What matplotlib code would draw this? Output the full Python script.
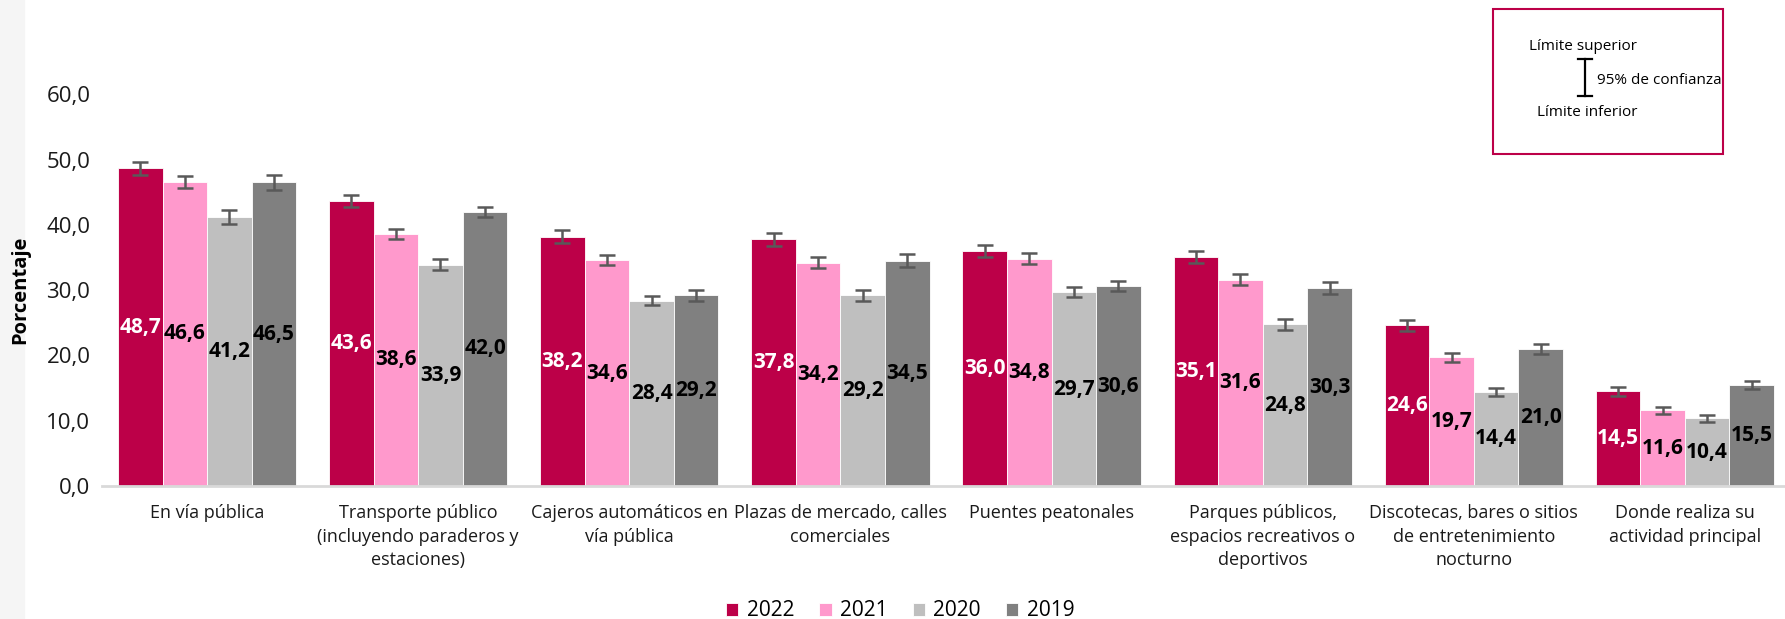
import numpy as np
import matplotlib
matplotlib.use("Agg")
import matplotlib.pyplot as plt
from matplotlib.patches import Rectangle

plt.rcParams['font.family'] = ['Open Sans', 'DejaVu Sans']

categorias = ["En vía pública",
              "Transporte público\n(incluyendo paraderos y\nestaciones)",
              "Cajeros automáticos en\nvía pública",
              "Plazas de mercado, calles\ncomerciales",
              "Puentes peatonales",
              "Parques públicos,\nespacios recreativos o\ndeportivos",
              "Discotecas, bares o sitios\nde entretenimiento\nnocturno",
              "Donde realiza su\nactividad principal"]
anios = ["2022", "2021", "2020", "2019"]
v2022 = [48.7, 43.6, 38.2, 37.8, 36.0, 35.1, 24.6, 14.5]
v2021 = [46.6, 38.6, 34.6, 34.2, 34.8, 31.6, 19.7, 11.6]
v2020 = [41.2, 33.9, 28.4, 29.2, 29.7, 24.8, 14.4, 10.4]
v2019 = [46.5, 42.0, 29.2, 34.5, 30.6, 30.3, 21.0, 15.5]
# semiamplitud del intervalo de confianza
e2022 = [1.0, 0.9, 1.0, 1.0, 0.95, 0.9, 0.8, 0.7]
e2021 = [0.9, 0.8, 0.8, 0.85, 0.85, 0.85, 0.65, 0.55]
e2020 = [1.1, 0.8, 0.7, 0.8, 0.8, 0.85, 0.6, 0.55]
e2019 = [1.1, 0.8, 0.8, 1.0, 0.8, 0.9, 0.75, 0.65]

colores = ["#BC0048", "#FF99CC", "#BFBFBF", "#808080"]
col_txt = ["white", "black", "black", "black"]

fig = plt.figure(figsize=(17.85, 6.19), dpi=100)
fig.patches.append(Rectangle((0, 0), 24 / 1785, 1, transform=fig.transFigure,
                             color="#F5F5F5", zorder=0))
ax = fig.add_axes([101.5 / 1785, 1 - 486 / 619, 1 - 101.5 / 1785, 457 / 619])

x = np.arange(len(categorias))
w = 0.211
series = [v2022, v2021, v2020, v2019]
errores = [e2022, e2021, e2020, e2019]
for i in range(4):
    pos = x + (i - 1.5) * w
    ax.bar(pos, series[i], w, color=colores[i], edgecolor="white", linewidth=0.6,
           label=anios[i], zorder=2)
    ax.errorbar(pos, series[i], yerr=errores[i], fmt="none", ecolor="#595959",
                elinewidth=1.8, capsize=6, capthick=1.8, zorder=3)
    for xp, v in zip(pos, series[i]):
        ax.text(xp, v / 2, f"{v:.1f}".replace(".", ","), ha="center", va="center",
                fontsize=15, fontweight="bold", color=col_txt[i], zorder=4)

ax.set_xlim(-0.5, 7.474)
ax.set_ylim(0, 70)
ax.set_yticks(np.arange(0, 61, 10))
ax.set_yticklabels([f"{t:.1f}".replace(".", ",") for t in np.arange(0, 61, 10)],
                   fontsize=16)
ax.set_xticks(x)
ax.set_xticklabels(categorias, fontsize=13, linespacing=1.4, va="top")
ax.tick_params(axis="both", length=0, colors="#1a1a1a")
ax.tick_params(axis="x", pad=13)
ax.tick_params(axis="y", pad=8)
for s in ["top", "right", "left"]:
    ax.spines[s].set_visible(False)
ax.spines["bottom"].set_color("#D9D9D9")
ax.spines["bottom"].set_linewidth(2)

fig.text(20 / 1785, 1 - 290 / 619, "Porcentaje", rotation=90, ha="center",
         va="center", fontsize=14.5, fontweight="bold", zorder=5)

fig.legend(loc="center", bbox_to_anchor=(900 / 1785, 1 - 611 / 619), ncol=4,
           frameon=False, fontsize=15, handlelength=0.6, handleheight=0.6,
           handletextpad=0.4, columnspacing=1.2)

# recuadro explicativo del intervalo de confianza
fig.patches.append(Rectangle((1493 / 1785, 1 - 154 / 619), 230 / 1785, 145 / 619,
                             transform=fig.transFigure, fill=False,
                             edgecolor="#BC0048", linewidth=1.5))
fig.text(1583 / 1785, 1 - 47 / 619, "Límite superior", ha="center", va="center",
         fontsize=11)
fig.text(1587 / 1785, 1 - 112 / 619, "Límite inferior", ha="center", va="center",
         fontsize=11)
fig.text(1597 / 1785, 1 - 81 / 619, "95% de confianza", ha="left", va="center",
         fontsize=11)
fig.add_artist(plt.Line2D([1585 / 1785] * 2, [1 - 59 / 619, 1 - 96 / 619],
                          transform=fig.transFigure, color="black", lw=1.6))
for yy in (59, 96):
    fig.add_artist(plt.Line2D([1578 / 1785, 1592 / 1785], [1 - yy / 619] * 2,
                              transform=fig.transFigure, color="black", lw=1.6))

fig.savefig("out.png", dpi=100)
